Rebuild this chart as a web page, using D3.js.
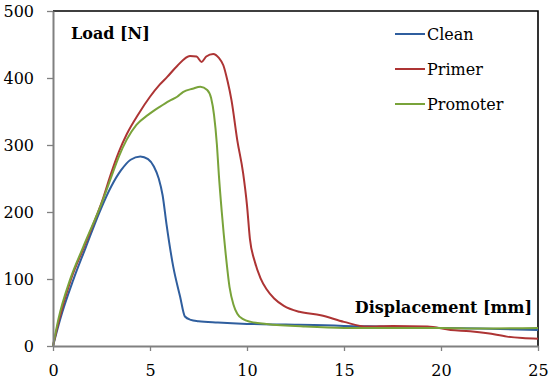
<!DOCTYPE html>
<html>
<head>
<meta charset="utf-8">
<script src="https://cdn.jsdelivr.net/npm/d3@7"></script>
<style>
  body { margin: 0; background: #fff; }
  svg { display: block; }
  text { font-family: "DejaVu Serif", serif; }
</style>
</head>
<body>
<svg id="plotarea"></svg>
<script>
// displacement [mm], load [N]
var cleanX = [0, 0.36, 1.05, 1.7, 2.4, 3.0, 3.5, 4.0, 4.5, 4.9, 5.2, 5.45, 5.65, 5.85, 6.2, 6.55, 6.8, 7.1, 7.5, 8.5, 10, 12, 14, 15, 17, 20, 22, 25];
var cleanY = [0, 39, 99, 148, 200, 238, 262, 278, 283, 279, 268, 250, 225, 182, 118, 74, 44, 39, 37, 35, 33, 32, 31, 30, 29, 27, 26, 24];

var primerX = [0, 0.32, 0.92, 1.6, 2.6, 3.0, 3.4, 3.8, 4.4, 5.0, 5.5, 5.9, 6.4, 7.06, 7.4, 7.66, 7.9, 8.26, 8.55, 8.78, 9.0, 9.2, 9.5, 9.8, 10.0, 10.15, 10.4, 10.7, 11.0, 11.4, 11.9, 12.7, 13.8, 15, 16.2, 17.5, 19.3, 20.5, 21.5, 22.4, 23.4, 24.2, 25];
var primerY = [0, 40, 99, 148, 222, 258, 290, 316, 346, 372, 390, 402, 418, 433, 432, 424, 432, 436, 430, 419, 395, 367, 307, 258, 210, 160, 126, 101, 85, 71, 60, 51, 46, 36, 29, 30, 29, 24, 22, 19, 14, 12, 11];

var promoterX = [0, 0.27, 0.88, 1.56, 2.6, 3.0, 3.4, 3.8, 4.3, 4.9, 5.5, 6.0, 6.4, 6.7, 7.2, 7.6, 7.95, 8.15, 8.3, 8.45, 8.55, 8.7, 8.9, 9.1, 9.3, 9.5, 9.8, 10.2, 11, 13, 15, 17, 20, 22, 25];
var promoterY = [0, 39, 99, 148, 220, 252, 283, 308, 330, 345, 357, 366, 372, 379, 384, 387, 382, 370, 345, 300, 255, 200, 138, 88, 62, 48, 40, 36, 33, 29, 27, 27, 27, 26, 27];

var seriesNames = ["Clean", "Primer", "Promoter"];
var seriesColors = ["#2f5e9e", "#ad3434", "#79a33a"];
var xTicks = [0, 5, 10, 15, 20, 25];
var yTicks = [0, 100, 200, 300, 400, 500];

var series = [
  { name: seriesNames[0], xs: cleanX, ys: cleanY },
  { name: seriesNames[1], xs: primerX, ys: primerY },
  { name: seriesNames[2], xs: promoterX, ys: promoterY }
];

var width = 550, height = 386;
var margin = { top: 11, right: 12, bottom: 40, left: 53 };
var w = width - margin.left - margin.right;
var h = height - margin.top - margin.bottom;

var svg = d3.select("#plotarea")
  .attr("width", width)
  .attr("height", height);

var g = svg.append("g")
  .attr("transform", "translate(" + margin.left + "," + margin.top + ")");

var x = d3.scaleLinear().domain([0, 25]).range([0, w]);
var y = d3.scaleLinear().domain([0, 500]).range([h, 0]);

// frame: top and right in black
g.append("path")
  .attr("d", "M0,0H" + w + "V" + h)
  .attr("fill", "none")
  .attr("stroke", "#000")
  .attr("stroke-width", 1.6);

var line = d3.line()
  .x(function(d) { return x(d[0]); })
  .y(function(d) { return y(d[1]); })
  .curve(d3.curveMonotoneX);

series.forEach(function(s, i) {
  var pts = s.xs.map(function(v, j) { return [v, s.ys[j]]; });
  g.append("path")
    .datum(pts)
    .attr("fill", "none")
    .attr("stroke", seriesColors[i])
    .attr("stroke-width", 2)
    .attr("stroke-linejoin", "round")
    .attr("d", line);
});

var xAxis = g.append("g")
  .attr("transform", "translate(0," + h + ")")
  .call(d3.axisBottom(x).tickValues(xTicks).tickSize(5).tickSizeOuter(0).tickPadding(14));
var yAxis = g.append("g")
  .call(d3.axisLeft(y).tickValues(yTicks).tickSize(6).tickSizeOuter(0).tickPadding(13));

[xAxis, yAxis].forEach(function(a) {
  a.select(".domain").attr("stroke", "#808080").attr("stroke-width", 2);
  a.selectAll(".tick line").attr("stroke", "#808080").attr("stroke-width", 1.3);
  a.selectAll(".tick text")
    .attr("font-family", "DejaVu Serif, serif")
    .attr("font-size", 16)
    .attr("fill", "#000");
});

// axis titles inside the plot
g.append("text")
  .attr("x", 18).attr("y", 28)
  .attr("font-weight", "bold")
  .attr("font-size", 16)
  .text("Load [N]");

g.append("text")
  .attr("x", w - 6).attr("y", 302)
  .attr("text-anchor", "end")
  .attr("font-weight", "bold")
  .attr("font-size", 16)
  .text("Displacement [mm]");

// legend
var legend = g.append("g").attr("transform", "translate(342,23)");
seriesNames.forEach(function(n, i) {
  var row = legend.append("g").attr("transform", "translate(0," + (i * 35) + ")");
  row.append("line")
    .attr("x1", 0).attr("x2", 30)
    .attr("stroke", seriesColors[i])
    .attr("stroke-width", 2);
  row.append("text")
    .attr("x", 32).attr("y", 0)
    .attr("dy", "0.35em")
    .attr("font-size", 16)
    .text(n);
});
</script>
</body>
</html>
